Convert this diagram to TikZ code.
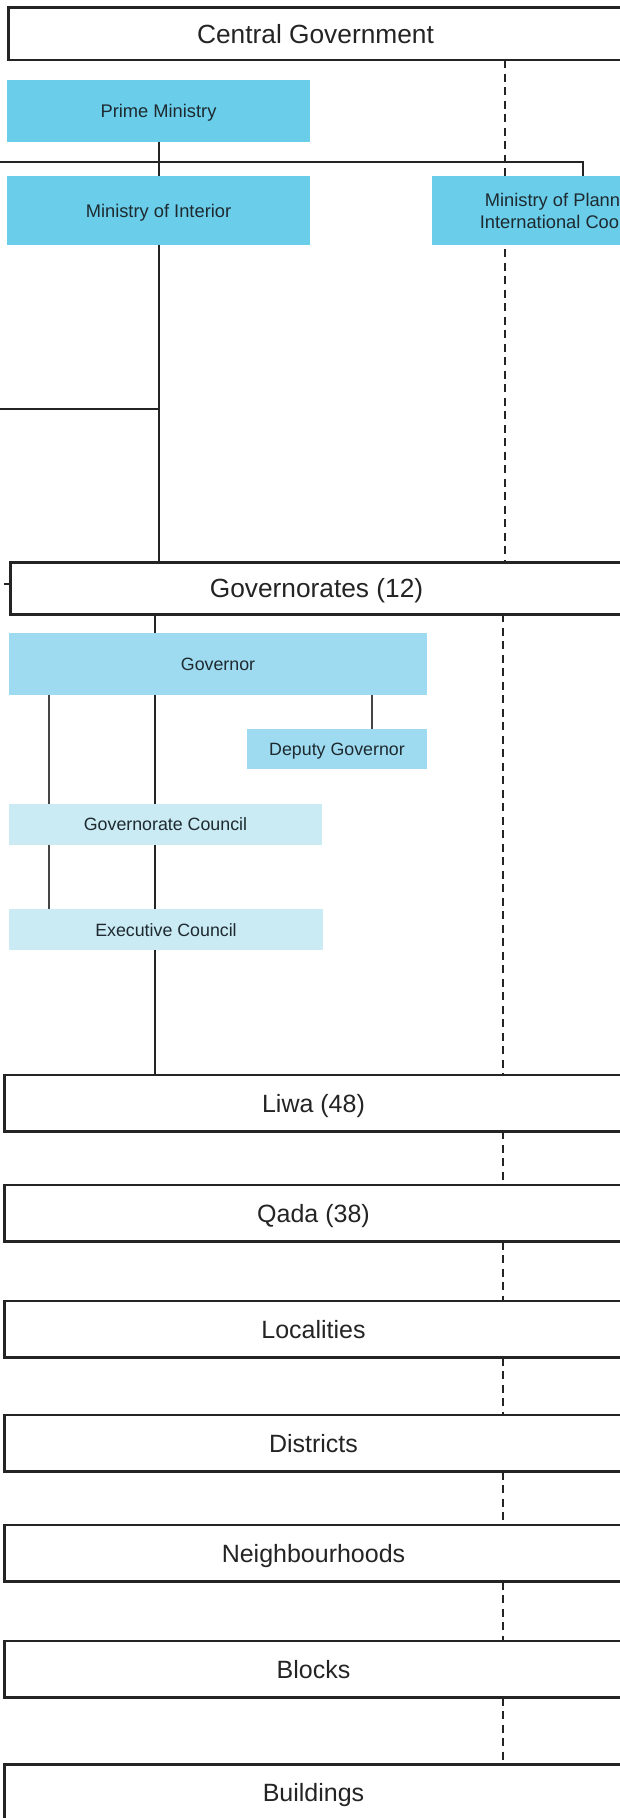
\documentclass[tikz,border=0pt]{standalone}
\usepackage{fontspec}
\setmainfont{Liberation Sans}
\pgfdeclarelayer{bg}
\pgfsetlayers{bg,main}
\definecolor{cyanA}{HTML}{6ACEEA}
\definecolor{cyanB}{HTML}{9EDBF0}
\definecolor{cyanC}{HTML}{CAEAF4}
\definecolor{ink}{HTML}{242424}
\definecolor{txt}{HTML}{1E2A30}
\begin{document}
\begin{tikzpicture}[x=1pt,y=-1pt,
  bigbox/.style={draw=ink, line width=2.6pt, fill=white, anchor=north west,
    inner sep=0pt, outer sep=0pt, text height=17.9pt, text depth=0pt,
    font=\fontsize{25}{30}\selectfont, text=ink, minimum width=618pt},
  bigfont/.style={font=\fontsize{26.3}{31}\selectfont, text height=18.8pt},
  smallbox/.style={anchor=north west, inner sep=0pt, outer sep=0pt,
    text height=13.1pt, text depth=0pt, font=\fontsize{18.3}{22}\selectfont, text=txt},
  govfont/.style={font=\fontsize{17.8}{21}\selectfont, text height=12.7pt},
  conn/.style={draw=ink, line width=2pt},
  thinconn/.style={draw=ink!85, line width=1.2pt},
  dashline/.style={draw=ink, line width=2pt, dash pattern=on 8pt off 5.5pt}]
\useasboundingbox (0,0) rectangle (619,1818);

% top level boxes
\node[bigbox, bigfont, minimum width=614pt, minimum height=52.7pt]
  (cg) at (8.5,7.3) {Central Government};
\node[smallbox, fill=cyanA, minimum width=303pt, minimum height=61.7pt] (pm) at (7,80) {Prime Ministry};
\node[smallbox, fill=cyanA, minimum width=303pt, minimum height=69pt] (moi) at (7,176) {Ministry of Interior};
\node[smallbox, fill=cyanA, minimum width=301pt, minimum height=69pt] (mop) at (432,176) {};
\node[inner sep=0pt, align=center, font=\fontsize{18.3}{22}\selectfont, text=txt, yshift=-2pt]
  (moptxt) at (mop.center) {Ministry of Planning and\\International Cooperation};

\node[bigbox, bigfont, minimum width=612pt, minimum height=52pt]
  (govs) at (10.5,562.3) {Governorates (12)};

\node[smallbox, govfont, fill=cyanB, minimum width=418pt, minimum height=61.7pt]
  (gov) at (9,633.3) {Governor};
\node[smallbox, govfont, fill=cyanB, minimum width=180pt, minimum height=40pt]
  (dep) at (247,729.3) {Deputy Governor};
\node[smallbox, govfont, fill=cyanC, minimum width=313pt, minimum height=40.7pt]
  (gc) at (9,804) {Governorate Council};
\node[smallbox, govfont, fill=cyanC, minimum width=314pt, minimum height=40.7pt]
  (ec) at (9,909.3) {Executive Council};

\node[bigbox, minimum height=56.3pt] (liwa) at (4.5,1075) {Liwa (48)};
\node[bigbox, minimum height=56.5pt] (qada) at (4.5,1185) {Qada (38)};
\node[bigbox, minimum height=56.5pt] (loc) at (4.5,1301) {Localities};
\node[bigbox, minimum height=56.5pt] (dist) at (4.5,1415) {Districts};
\node[bigbox, minimum height=56.5pt] (neigh) at (4.5,1525) {Neighbourhoods};
\node[bigbox, minimum height=56.5pt] (blocks) at (4.5,1641) {Blocks};
\node[bigbox, minimum height=57pt] (build) at (4.5,1764.3) {Buildings};

% helper coordinates
\coordinate (lA) at (0,162.3);
\coordinate (lB) at (0,409);
\coordinate (lC) at (3.5,584.3);
\coordinate (dA) at (504.5,0);
\coordinate (dB) at (502.5,0);
\coordinate (vA) at (154.5,0);
\coordinate (tA) at (49,0);
\coordinate (tB) at (372,0);

% solid connectors
\draw[conn] (pm.south) -- (moi.north);
\draw[conn] (lA) -| (mop.north);
\draw[conn] (moi.south) -- (moi.south |- govs.north);
\draw[conn] (lB) -- (lB -| moi.south);
\draw[conn] (lC) -- (lC -| govs.west);
\begin{pgfonlayer}{bg}
\draw[conn] (vA |- govs.south) -- (vA |- liwa.north);
\draw[dashline] (dA |- cg.south) -- (dA |- govs.north);
\end{pgfonlayer}
\draw[thinconn] (tA |- gov.south) -- (tA |- gc.north);
\draw[thinconn] (tA |- gc.south) -- (tA |- ec.north);
\draw[thinconn] (tB |- gov.south) -- (tB |- dep.north);

% dashed connectors
\draw[dashline] (dB |- govs.south) -- (dB |- liwa.north);
\draw[dashline] (dB |- liwa.south) -- (dB |- qada.north);
\draw[dashline] (dB |- qada.south) -- (dB |- loc.north);
\draw[dashline] (dB |- loc.south) -- (dB |- dist.north);
\draw[dashline] (dB |- dist.south) -- (dB |- neigh.north);
\draw[dashline] (dB |- neigh.south) -- (dB |- blocks.north);
\draw[dashline] (dB |- blocks.south) -- (dB |- build.north);
\end{tikzpicture}
\end{document}
